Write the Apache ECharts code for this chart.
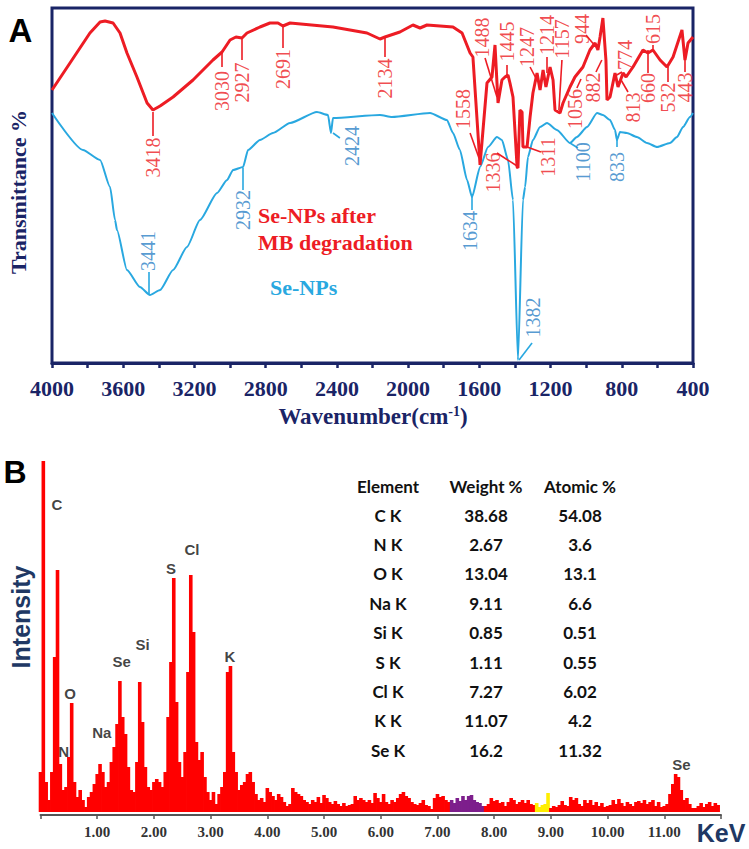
<!DOCTYPE html>
<html><head><meta charset="utf-8">
<script src="https://cdn.jsdelivr.net/npm/echarts@6/dist/echarts.min.js"></script>
<style>html,body{margin:0;padding:0;background:#fff}#c{width:749px;height:849px}</style>
</head><body><div id="c"></div>
<script>
// ---------- Panel A: FTIR (wavenumber cm-1, transmittance in arbitrary units) ----------
const wnRed = [4000,3899,3787,3730,3702,3657,3618,3579,3523,3466,3433,3393,3320,3208,3096,3045,3000,2967,2933,2905,2832,2776,2731,2703,2663,2422,2231,2158,2130,2046,1973,1933,1894,1748,1697,1652,1636,1596,1557,1529,1512,1495,1473,1456,1439,1428,1411,1388,1383,1372,1360,1355,1332,1315,1299,1276,1259,1242,1226,1203,1186,1175,1147,1130,1091,1063,1018,979,950,934,922,906,889,883,866,838,821,793,776,737,681,653,625,585,546,512,462,445,428,400];
const tRed = [273,300,330,341,342,340,330,310,286,260,253,257,266,283,303,311,323,326,325,330,336,340,340,337,340,336,330,324,326,331,338,335,338,336,330,310,306,198,280,286,318,260,283,286,288,280,266,196,195,253,251,216,216,246,270,290,273,293,276,296,283,253,250,260,276,286,296,313,320,313,326,345,303,263,266,290,276,290,286,296,313,310,313,303,296,306,333,303,320,326];
const wnBlue = [4000,3826,3730,3674,3646,3635,3579,3506,3450,3393,3320,3242,3169,3073,3017,2983,2927,2899,2832,2759,2663,2512,2450,2433,2422,2158,2091,1877,1782,1748,1709,1669,1641,1596,1551,1501,1473,1439,1411,1383,1355,1343,1327,1299,1259,1220,1164,1091,1052,995,939,906,866,838,827,810,771,715,658,602,529,490,456,417,400];
const tBlue = [250,213,203,176,143,133,93,76,68,73,93,116,143,170,183,193,196,213,223,230,240,251,248,230,245,248,246,250,243,230,213,183,166,196,216,226,223,203,163,3,163,176,206,223,236,240,233,220,226,236,250,248,243,233,223,231,230,226,220,216,220,226,236,246,250];
const ftirTickLabels = [4000,3600,3200,2800,2400,2000,1600,1200,800,400];

// peak annotations: [text, wavenumber, transmittance] (label centre)
const redPeakLabels = [
  ['3418',3433,205.5],['3030',3045,272],['2927',2933,280.5],['2691',2703,294],['2134',2130,284.5],
  ['1558',1692,254],['1488',1585,325.5],['1445',1445,321.5],['1247',1332,316],['1214',1220,328],
  ['1157',1136,324],['944',1023,334],['1056',1063,254],['882',962,275.5],['774',782,308],
  ['813',737,255.5],['660',653,275],['615',625,334],['532',540,265.5],['443',445,275.5],
  ['1336',1523,190.5],['1311',1214,206]
];
const redLeaders = [
  [3433,251,3433,227],[3045,310,3045,296],[2933,325,2933,303],[2703,338,2703,315],[2130,326,2130,306],
  [1652,230,1602,205],[1568,305,1501,266],[1445,298,1445,285],[1315,296,1271,281],[1220,306,1220,290],
  [1136,303,1153,253],[1001,328,945,316],[1052,275,1029,284],[945,291,912,303],[799,291,838,287],
  [765,271,804,283],[653,290,653,313],[625,318,625,313],[540,281,540,296],[445,291,445,303],
  [1501,210,1388,197],[1254,211,1332,216]
];
const bluePeakLabels = [
  ['3441',3461,112],['2932',2927,153],['2424',2315,217],['1634',1652,132],
  ['1382',1299,45.5],['1100',1018,201],['833',827,196]
];
const blueLeaders = [
  [3455,91,3455,69],[2927,195,2927,173],[2422,230,2383,225],[1641,166,1641,153],
  [1377,3,1304,20],[1091,220,1046,215],[827,223,827,216]
];

// ---------- Panel B: EDS spectrum (0.05 keV channels, counts in arbitrary units) ----------
const channelWidthKeV = 0.05;
const edsCounts = [
  40,351,30,12,40,155,242,48,22,25,55,109,30,15,22,12,5,15,20,28,
  38,48,40,25,30,50,65,88,131,95,78,45,22,20,50,130,90,45,25,22,
  30,33,30,25,40,95,150,234,110,50,35,60,140,237,180,70,52,60,35,20,
  12,20,8,18,25,40,140,146,60,40,22,27,30,38,40,30,18,12,14,10,
  24,20,16,12,18,15,10,6,8,24,20,18,16,12,10,8,12,10,15,9,
  17,14,10,8,11,8,6,9,6,7,8,16,12,14,12,10,12,9,19,14,
  10,18,10,8,12,10,14,18,20,16,14,10,8,7,9,12,7,6,3,14,
  18,15,16,12,10,12,9,14,11,16,12,16,17,12,10,9,6,6,8,14,
  11,12,9,10,6,10,14,12,8,10,12,9,12,8,7,9,5,7,8,19,
  4,6,5,7,11,7,6,15,12,14,8,6,12,9,12,7,10,6,9,5,
  6,7,12,8,13,9,6,10,8,6,10,11,9,12,8,10,12,6,10,5,
  6,8,18,28,38,35,22,12,14,8,4,4,6,9,5,8,10,6,9,7
];
const purpleRange = [7.25, 7.80];
const yellowRange = [8.75, 8.95];
// element peak labels: [text, keV, counts] (label centre)
const edsPeakLabels = [
  ['C',0.29,308],['N',0.41,61],['O',0.52,119],['Na',1.08,80],['Se',1.43,151],
  ['Si',1.80,168],['S',2.30,244],['Cl',2.67,263],['K',3.34,156],['Se',11.30,48]
];
// composition table
const tableHeader = ['Element','Weight %','Atomic %'];
const tableElements = ['C K','N K','O K','Na K','Si K','S K','Cl K','K K','Se K'];
const tableWeight = ['38.68','2.67','13.04','9.11','0.85','1.11','7.27','11.07','16.2'];
const tableAtomic = ['54.08','3.6','13.1','6.6','0.51','0.55','6.02','4.2','11.32'];

// ---------- build ----------
const NAVY = '#1a2466', RED = '#ed1c24', BLUE = '#29a8e0', BLUE_TXT = '#2a7fc6', NAVY2 = '#203864';
const SERIF = '"Liberation Serif", "Times New Roman", serif';
const SANS = '"Liberation Sans", Arial, sans-serif';

const zip = (a, b) => a.map((v, i) => [v, b[i]]);
const leaderData = arr => arr.map(l => [{coord: [l[0], l[1]]}, {coord: [l[2], l[3]]}]);
const labelData = arr => arr.map(l => ({name: l[0], value: [l[1], l[2]]}));
const edsData = edsCounts.map((c, i) => [+(i * channelWidthKeV).toFixed(2), c]);

const chart = echarts.init(document.getElementById('c'), null, {renderer: 'svg'});

const graphics = [
  {type:'text', x:20.5, y:30, style:{text:'A', font:'bold 33px ' + SANS, fill:'#000', align:'center', verticalAlign:'middle'}},
  {type:'text', x:15, y:472, style:{text:'B', font:'bold 32px ' + SANS, fill:'#000', align:'center', verticalAlign:'middle'}},
  {type:'text', x:18, y:192, rotation:Math.PI/2, style:{text:'Transmittance %', font:'bold 22px ' + SERIF, fill:NAVY, align:'center', verticalAlign:'middle'}},
  {type:'text', x:373, y:416, style:{text:'{a|Wavenumber(cm}{b|-1}{a|)}', font:'bold 23px ' + SERIF, fill:NAVY, align:'center', verticalAlign:'middle',
     rich:{a:{font:'bold 23px ' + SERIF, fill:NAVY}, b:{font:'bold 14px ' + SERIF, fill:NAVY, verticalAlign:'top', padding:[0,0,8,0]}}}},
  {type:'text', x:258, y:215, style:{text:'Se-NPs after', font:'bold 22px ' + SERIF, fill:RED, align:'left', verticalAlign:'middle'}},
  {type:'text', x:258, y:242, style:{text:'MB degradation', font:'bold 22px ' + SERIF, fill:RED, align:'left', verticalAlign:'middle'}},
  {type:'text', x:270, y:287, style:{text:'Se-NPs', font:'bold 22px ' + SERIF, fill:BLUE, align:'left', verticalAlign:'middle'}},
  {type:'text', x:21, y:617, rotation:Math.PI/2, style:{text:'Intensity', font:'bold 25px ' + SANS, fill:NAVY2, align:'center', verticalAlign:'middle'}},
  {type:'text', x:721, y:833, style:{text:'KeV', font:'bold 25px ' + SANS, fill:NAVY2, align:'center', verticalAlign:'middle'}}
];
const colX = [388, 486, 580];
const TFONT = 'bold 17px Lato, "Open Sans", sans-serif';
tableHeader.forEach((h, j) => graphics.push({type:'text', x:colX[j], y:486, style:{text:h, font:TFONT, fill:'#111', align:'center', verticalAlign:'middle'}}));
tableElements.forEach((e, i) => {
  const y = 515 + i * 29.4;
  [e, tableWeight[i], tableAtomic[i]].forEach((t, j) =>
    graphics.push({type:'text', x:colX[j], y:y, style:{text:t, font:TFONT, fill:'#111', align:'center', verticalAlign:'middle'}}));
});

const hiddenDot = {color:'rgba(0,0,0,0)', borderWidth:0};

const option = {
  animation: false,
  backgroundColor: '#fff',
  grid: [
    {left:52, top:8, width:641, height:355, show:true, borderColor:NAVY, borderWidth:3, backgroundColor:'transparent'},
    {left:40.5, top:461, width:680.5, height:351}
  ],
  xAxis: [
    {gridIndex:0, type:'value', min:400, max:4000, interval:200, inverse:true,
     axisLine:{show:true, lineStyle:{color:NAVY, width:3}},
     axisTick:{show:true, inside:false, length:5, lineStyle:{color:NAVY, width:2.5}},
     axisLabel:{show:true, margin:14, color:NAVY, fontFamily:'Liberation Serif', fontWeight:'bold', fontSize:22,
       showMinLabel:true, showMaxLabel:true,
       formatter: v => ftirTickLabels.includes(v) ? String(v) : ''},
     splitLine:{show:false}},
    {gridIndex:1, type:'value', min:0, max:12, interval:1, offset:3,
     axisLine:{show:true, onZero:false, lineStyle:{color:'#555', width:2}},
     axisTick:{show:true, length:4, lineStyle:{color:'#555', width:1.5}},
     axisLabel:{margin:9, color:'#333', fontFamily:'Liberation Serif', fontWeight:'bold', fontSize:15,
       formatter: v => (v > 0 && v < 12) ? v.toFixed(2) : ''},
     splitLine:{show:false}}
  ],
  yAxis: [
    {gridIndex:0, type:'value', min:0, max:355, show:false},
    {gridIndex:1, type:'value', min:0, max:351, show:false}
  ],
  series: [
    {type:'line', xAxisIndex:0, yAxisIndex:0, data:zip(wnRed, tRed), symbol:'none', silent:true,
     lineStyle:{color:RED, width:3}, z:3,
     markLine:{silent:true, symbol:['none','none'], label:{show:false}, lineStyle:{color:RED, width:1.6, type:'solid'},
       data:leaderData(redLeaders)}},
    {type:'line', xAxisIndex:0, yAxisIndex:0, data:zip(wnBlue, tBlue), symbol:'none', silent:true,
     smooth:0.2, smoothMonotone:'x',
     lineStyle:{color:BLUE, width:2}, z:2,
     markLine:{silent:true, symbol:['none','none'], label:{show:false}, lineStyle:{color:BLUE, width:1.6, type:'solid'},
       data:leaderData(blueLeaders)}},
    {type:'scatter', xAxisIndex:0, yAxisIndex:0, data:labelData(redPeakLabels), symbolSize:1, itemStyle:hiddenDot, silent:true, z:5,
     label:{show:true, position:'inside', formatter:'{b}', rotate:90, align:'center', verticalAlign:'middle',
       color:RED, fontFamily:'Liberation Serif', fontSize:20}},
    {type:'scatter', xAxisIndex:0, yAxisIndex:0, data:labelData(bluePeakLabels), symbolSize:1, itemStyle:hiddenDot, silent:true, z:5,
     label:{show:true, position:'inside', formatter:'{b}', rotate:90, align:'center', verticalAlign:'middle',
       color:BLUE_TXT, fontFamily:'Liberation Serif', fontSize:20}},
    {type:'bar', xAxisIndex:1, yAxisIndex:1, data:edsData, barWidth:3.6, silent:true,
     itemStyle:{color: p => {
       const e = p.value[0];
       if (e >= purpleRange[0] - 1e-6 && e <= purpleRange[1] + 1e-6) return '#7d1e8c';
       if (e >= yellowRange[0] - 1e-6 && e <= yellowRange[1] + 1e-6) return '#ffee00';
       return '#ff0000';
     }}},
    {type:'scatter', xAxisIndex:1, yAxisIndex:1, data:labelData(edsPeakLabels), symbolSize:1, itemStyle:hiddenDot, silent:true, z:5,
     label:{show:true, position:'inside', formatter:'{b}', align:'center', verticalAlign:'middle',
       color:'#111', fontFamily:'Liberation Sans', fontWeight:'bold', fontSize:15}}
  ],
  graphic: graphics
};
chart.setOption(option);
</script></body></html>
